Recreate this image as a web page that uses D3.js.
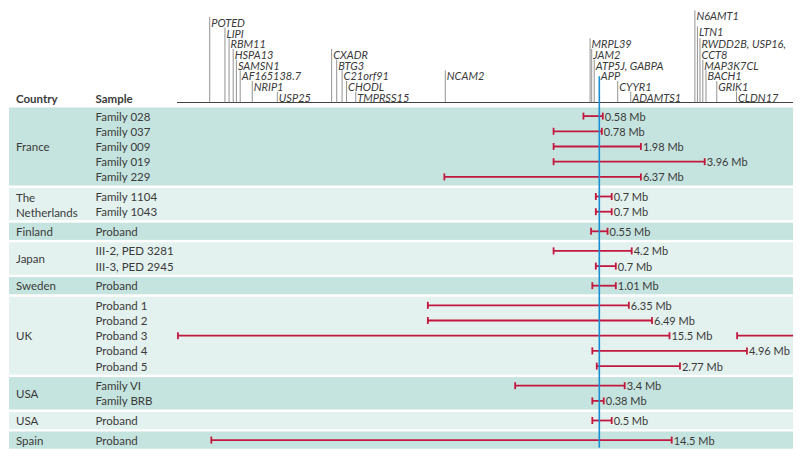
<!DOCTYPE html>
<html>
<head>
<meta charset="utf-8">
<script src="https://cdn.jsdelivr.net/npm/d3@7"></script>
<style>
  body { margin: 0; background: #fff; }
  svg { display: block; font-family: Lato, "Open Sans", sans-serif; }
</style>
</head>
<body>
<div id="Graph"></div>
<script>
// countries (one band each), in drawing order
const countries = ["France", "The Netherlands", "Finland", "Japan", "Sweden", "UK", "USA", "USA", "Spain"];

// one entry per duplication
const sampleCountry = [0, 0, 0, 0, 0, 1, 1, 2, 3, 3, 4, 5, 5, 5, 5, 5, 6, 6, 7, 8];
const samples = ["Family 028", "Family 037", "Family 009", "Family 019", "Family 229",
  "Family 1104", "Family 1043", "Proband", "III-2, PED 3281", "III-3, PED 2945",
  "Proband", "Proband 1", "Proband 2", "Proband 3", "Proband 4", "Proband 5",
  "Family VI", "Family BRB", "Proband", "Proband"];
// duplication start / end along chromosome 21 (Mb)
const dupStart = [26.90, 25.96, 25.96, 25.96, 22.52, 27.29, 27.29, 27.14, 25.96, 27.29,
  27.18, 22.00, 22.00, 14.13, 27.18, 27.32, 24.75, 27.18, 27.18, 15.18];
const dupEnd = [27.51, 27.48, 28.71, 30.72, 28.71, 27.79, 27.79, 27.66, 28.42, 27.92,
  27.92, 28.33, 29.06, 29.61, 32.05, 29.94, 28.20, 27.54, 27.79, 29.68];
const dupSize = ["0.58 Mb", "0.78 Mb", "1.98 Mb", "3.96 Mb", "6.37 Mb", "0.7 Mb", "0.7 Mb",
  "0.55 Mb", "4.2 Mb", "0.7 Mb", "1.01 Mb", "6.35 Mb", "6.49 Mb", "15.5 Mb", "4.96 Mb",
  "2.77 Mb", "3.4 Mb", "0.38 Mb", "0.5 Mb", "14.5 Mb"];
// Proband 3 carries on past the drawn region
const extraRow = [13];
const extraStart = [31.74];
const extraEnd = [33.5];

// genes marked above the chart
const geneNames = ["POTED", "LIPI", "RBM11", "HSPA13", "SAMSN1", "AF165138.7", "NRIP1", "USP25",
  "CXADR", "BTG3", "C21orf91", "CHODL", "TMPRSS15", "NCAM2",
  "MRPL39", "JAM2", "ATP5J, GABPA", "APP", "CYYR1", "ADAMTS1",
  "N6AMT1", "LTN1", "RWDD2B, USP16,|CCT8", "MAP3K7CL", "BACH1", "GRIK1", "CLDN17"];
const genePos = [15.13, 15.61, 15.74, 15.87, 15.97, 16.09, 16.47, 17.26,
  18.97, 19.13, 19.30, 19.44, 19.73, 22.55,
  27.11, 27.16, 27.24, 27.40, 27.98, 28.39,
  30.41, 30.49, 30.57, 30.66, 30.76, 31.10, 31.72];
const geneTier = [7, 6, 5, 4, 3, 2, 1, 0,
  4, 3, 2, 1, 0, 2,
  5, 4, 3, 2, 1, 0,
  7.6, 6.1, 5, 3, 2, 1, 0];
const highlightGene = "APP";

const width = 800, height = 457;
const svg = d3.select("#Graph").append("svg")
  .attr("width", width)
  .attr("height", height);

const x = d3.scaleLinear().domain([14.1, 33.5]).range([177, 793]);
const tierY = d3.scaleLinear().domain([0, 7]).range([96.7, 21.8]);

const textCol = "#3a3a3a";
const red = "#c2183f";
const blue = "#1a8ed3";
const bandCols = ["#c6e4df", "#e3f1ef"];

// row layout: bands stacked, rows evenly spaced inside each
const rowH = 15.2, pad = 2, gap = 2.4;
const bands = [];
const rowY = [];
let yCursor = 107.5;
countries.forEach((c, gi) => {
  const idx = d3.range(samples.length).filter(i => sampleCountry[i] === gi);
  const h = pad + idx.length * rowH;
  idx.forEach((i, k) => { rowY[i] = yCursor + pad / 2 + rowH * (k + 0.5); });
  bands.push({ name: c, top: yCursor, h: h, rows: idx, i: gi });
  yCursor += h + gap;
});

// bands
svg.append("g").selectAll("rect")
  .data(bands)
  .enter().append("rect")
  .attr("x", 9)
  .attr("y", d => d.top)
  .attr("width", 793 - 9)
  .attr("height", d => d.h)
  .attr("fill", d => bandCols[d.i % 2]);

// headers
svg.append("text").attr("x", 16).attr("y", 98.5)
  .attr("dominant-baseline", "central")
  .attr("font-size", 11.5).attr("font-weight", "bold").attr("fill", textCol)
  .text("Country");
svg.append("text").attr("x", 95.5).attr("y", 98.5)
  .attr("dominant-baseline", "central")
  .attr("font-size", 11.5).attr("font-weight", "bold").attr("fill", textCol)
  .text("Sample");

// country names (multi word names go one word per row)
bands.forEach(b => {
  const words = b.name.split(" ");
  const t = svg.append("text")
    .attr("x", 16)
    .attr("font-size", 11.5)
    .attr("fill", textCol)
    .attr("dominant-baseline", "central");
  if (words.length > 1 && b.rows.length >= words.length) {
    words.forEach((w, k) => {
      t.append("tspan").attr("x", 16).attr("y", rowY[b.rows[k]]).text(w);
    });
  } else {
    t.attr("y", b.top + b.h / 2).text(b.name);
  }
});

// sample names
svg.append("g").selectAll("text")
  .data(samples)
  .enter().append("text")
  .attr("x", 95.5)
  .attr("y", (d, i) => rowY[i])
  .attr("dominant-baseline", "central")
  .attr("font-size", 11.5)
  .attr("fill", textCol)
  .text(d => d);

// gene ruler
svg.append("line")
  .attr("x1", 177).attr("x2", 793)
  .attr("y1", 102.5).attr("y2", 102.5)
  .attr("stroke", "#444").attr("stroke-width", 1);

const genes = svg.append("g");
geneNames.forEach((g, i) => {
  const gx = x(genePos[i]);
  const gy = tierY(geneTier[i]);
  if (g !== highlightGene) {
    genes.append("line")
      .attr("x1", gx).attr("x2", gx)
      .attr("y1", gy - 5).attr("y2", 102.5)
      .attr("stroke", "#777").attr("stroke-width", 0.8);
  }
  const t = genes.append("text")
    .attr("x", gx + 1.5)
    .attr("y", gy)
    .attr("dominant-baseline", "central")
    .attr("font-size", 11)
    .attr("font-style", "italic")
    .attr("fill", textCol);
  g.split("|").forEach((part, k) => {
    t.append("tspan").attr("x", gx + 1.5).attr("y", gy + k * 10.7).text(part);
  });
});

// duplications
const bars = svg.append("g");
const capH = 3.5;
samples.forEach((s, i) => {
  const y = rowY[i], x1 = x(dupStart[i]), x2 = x(dupEnd[i]);
  bars.append("line").attr("x1", x1).attr("x2", x2).attr("y1", y).attr("y2", y)
    .attr("stroke", red).attr("stroke-width", 1.8);
  [x1, x2].forEach(cx => {
    bars.append("line").attr("x1", cx).attr("x2", cx).attr("y1", y - capH).attr("y2", y + capH)
      .attr("stroke", red).attr("stroke-width", 1.8);
  });
  bars.append("text")
    .attr("x", x2 + 2)
    .attr("y", y)
    .attr("dominant-baseline", "central")
    .attr("font-size", 11)
    .attr("fill", textCol)
    .text(dupSize[i]);
});
extraRow.forEach((r, k) => {
  const y = rowY[r], x1 = x(extraStart[k]), x2 = x(extraEnd[k]);
  bars.append("line").attr("x1", x1).attr("x2", x2).attr("y1", y).attr("y2", y)
    .attr("stroke", red).attr("stroke-width", 1.8);
  bars.append("line").attr("x1", x1).attr("x2", x1).attr("y1", y - capH).attr("y2", y + capH)
    .attr("stroke", red).attr("stroke-width", 1.8);
});

// APP marker through all rows
const appX = x(genePos[geneNames.indexOf(highlightGene)]);
svg.append("line")
  .attr("x1", appX).attr("x2", appX)
  .attr("y1", tierY(geneTier[geneNames.indexOf(highlightGene)]) + 1)
  .attr("y2", bands[bands.length - 1].top + bands[bands.length - 1].h - 1)
  .attr("stroke", blue).attr("stroke-width", 1.6);
</script>
</body>
</html>
